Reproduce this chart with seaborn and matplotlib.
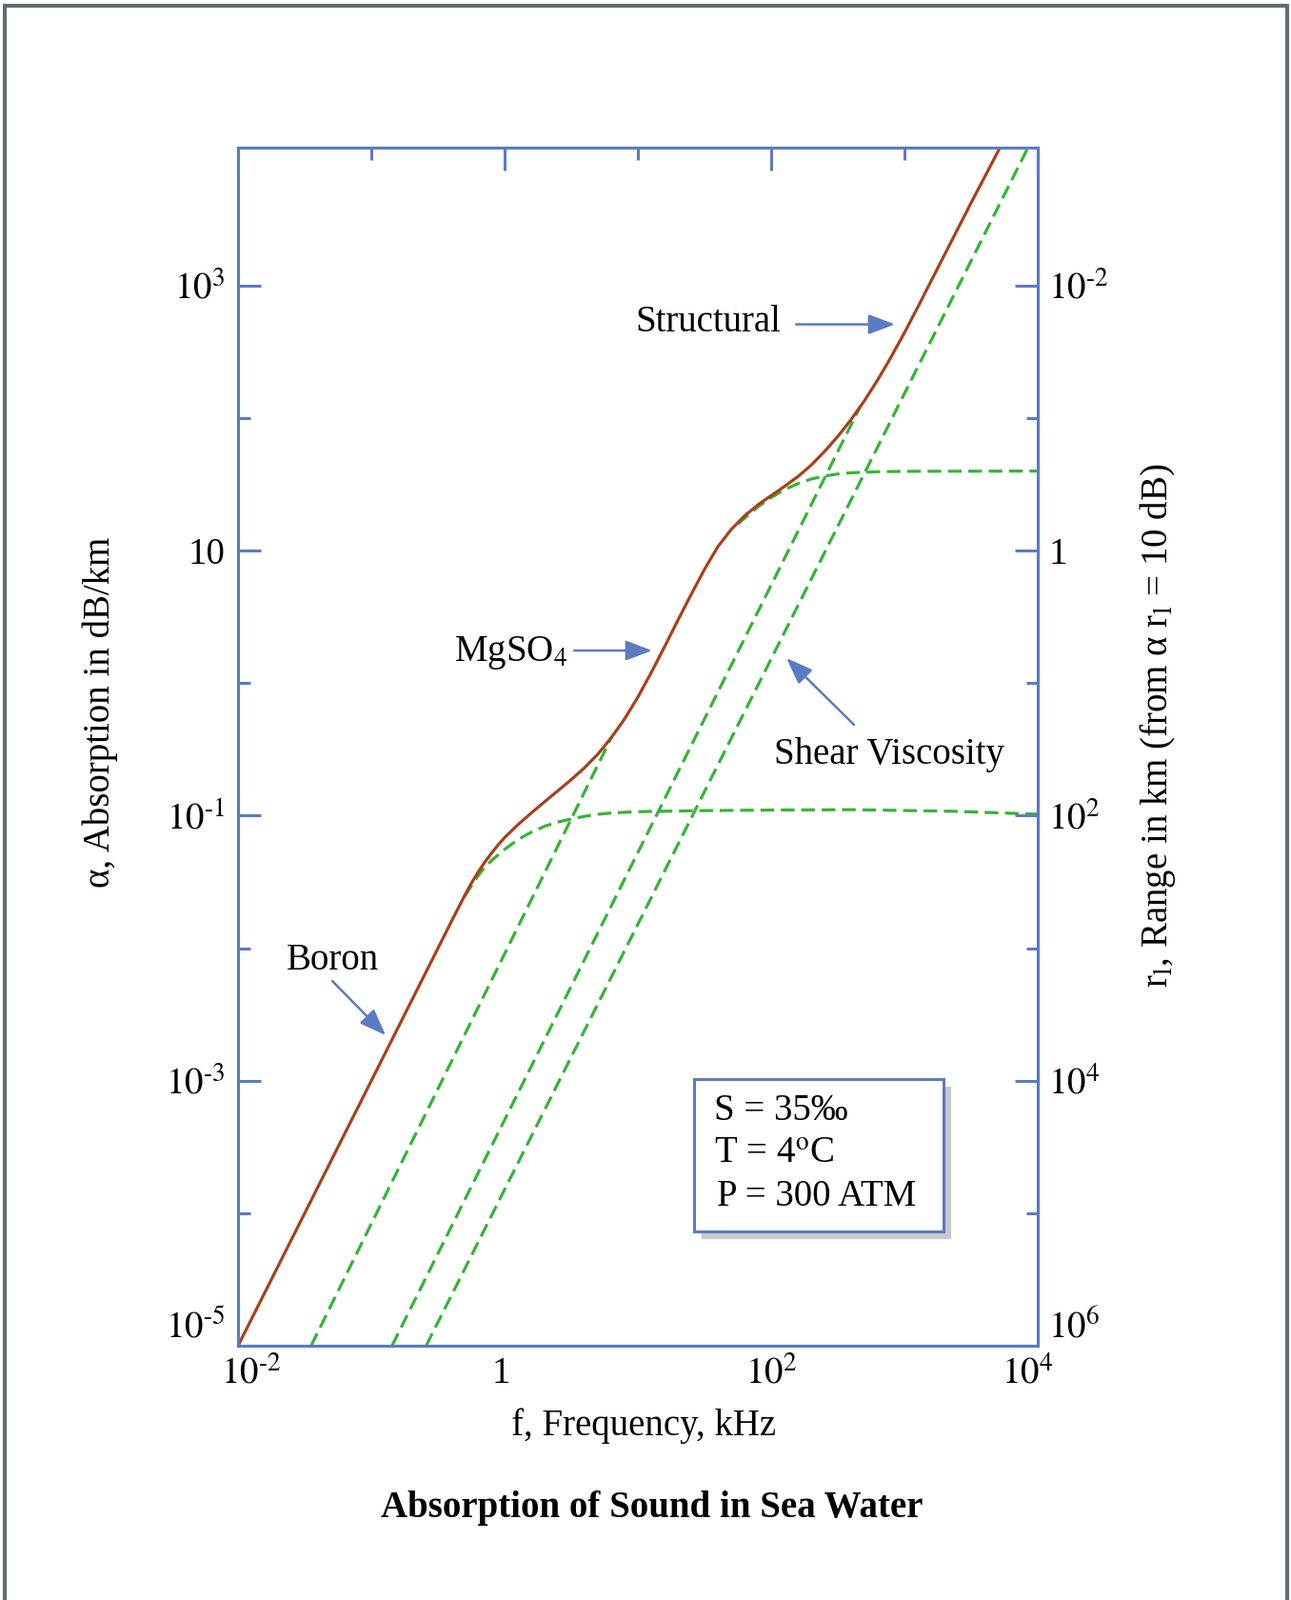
import numpy as np
import pandas as pd
import matplotlib
matplotlib.use("Agg")
import matplotlib.pyplot as plt
import seaborn as sns
from matplotlib.patches import Rectangle
from matplotlib.transforms import ScaledTranslation

# --- values: log10 of f (kHz) and log10 of alpha (dB/km) ---
total_logf = [-2.00, -0.60, -0.40, -0.30, -0.25, -0.20, -0.15, -0.10, -0.05, 0.00,
              0.10, 0.20, 0.30, 0.40, 0.50, 0.60, 0.70, 0.80, 0.90, 1.00,
              1.10, 1.20, 1.30, 1.40, 1.50, 1.60, 1.70, 1.80, 1.90, 2.00,
              2.10, 2.20, 2.30, 2.40, 2.50, 2.60, 2.70, 2.80, 2.90, 3.00,
              3.10, 3.30, 3.50, 3.716]
total_loga = [-5.000, -2.200, -1.800, -1.603, -1.510, -1.428, -1.352, -1.285, -1.222, -1.165,
              -1.068, -0.980, -0.895, -0.812, -0.728, -0.638, -0.535, -0.412, -0.270, -0.105,
              0.080, 0.275, 0.475, 0.670, 0.860, 1.030, 1.160, 1.262, 1.345, 1.415,
              1.485, 1.558, 1.645, 1.748, 1.862, 1.990, 2.132, 2.290, 2.462, 2.645,
              2.838, 3.232, 3.625, 4.040]

boron_logf = [-0.30, -0.25, -0.20, -0.166, -0.10, 0.00, 0.10, 0.20, 0.30, 0.40, 0.50, 0.60,
              0.70, 0.80, 1.00, 1.50, 2.00, 2.60, 3.36, 4.00]
boron_loga = [-1.610, -1.530, -1.455, -1.410, -1.340, -1.255, -1.180, -1.125, -1.080, -1.048,
              -1.025, -1.005, -0.990, -0.980, -0.970, -0.962, -0.958, -0.955, -0.967, -0.989]

mg_low_logf = [-1.452, 0.805]
mg_low_loga = [-5.000, -0.402]
mg_high_logf = [1.75, 1.80, 1.90, 2.00, 2.10, 2.20, 2.30, 2.40, 2.50, 2.60, 2.80, 3.00, 4.00]
mg_high_loga = [1.200, 1.245, 1.330, 1.400, 1.460, 1.505, 1.540, 1.562, 1.578, 1.587, 1.595,
                1.598, 1.600]

struct_logf = [-0.845, 2.664]
struct_loga = [-5.000, 2.080]
shear_logf = [-0.589, 3.926]
shear_loga = [-5.000, 4.040]

x_ticks = [1e-2, 1, 1e2, 1e4]
x_labels = [r"$10^{\text{-}2}$", "1", r"$10^{2}$", r"$10^{4}$"]
x_minor = [1e-1, 10, 1e3]
y_ticks = [1e-5, 1e-3, 1e-1, 10, 1e3]
y_labels = [r"$10^{\text{-}5}$", r"$10^{\text{-}3}$", r"$10^{\text{-}1}$", "10", r"$10^{3}$"]
y_minor = [1e-4, 1e-2, 1, 1e2]
r_labels = [r"$10^{6}$", r"$10^{4}$", r"$10^{2}$", "1", r"$10^{\text{-}2}$"]  # r = 10 dB / alpha

BLUE = "#5b7bc2"
BROWN = "#a8401a"
GREEN = "#34b534"
FS = 28

sns.set_theme(style="white")
plt.rcParams["font.family"] = ["Liberation Serif", "DejaVu Serif"]
plt.rcParams["mathtext.fontset"] = "stix"
plt.rcParams["text.color"] = "black"
plt.rcParams["axes.labelcolor"] = "black"

fig = plt.figure(figsize=(13.56, 16.8), dpi=100)
ax = fig.add_axes([0.1844, 0.1589, 0.6195, 0.7488])
ax.set_xscale("log")
ax.set_yscale("log")


def draw(lf, la, color, dashed, z):
    df = pd.DataFrame({"f": 10 ** np.array(lf), "a": 10 ** np.array(la)})
    ls = (0, (4.5, 2.2)) if dashed else "-"
    sns.lineplot(data=df, x="f", y="a", ax=ax, color=color, linewidth=2.3,
                 linestyle=ls, sort=False, estimator=None, zorder=z)


draw(mg_low_logf, mg_low_loga, GREEN, True, 2)
draw(mg_high_logf, mg_high_loga, GREEN, True, 2)
draw(boron_logf, boron_loga, GREEN, True, 2)
draw(struct_logf, struct_loga, GREEN, True, 2)
draw(shear_logf, shear_loga, GREEN, True, 2)
draw(total_logf, total_loga, BROWN, False, 3)

ax.set_xlim(1e-2, 1e4)
ax.set_ylim(1e-5, 10 ** 4.04)

ax.set_xticks(x_ticks, labels=x_labels)
ax.set_xticks(x_minor, minor=True)
ax.set_yticks(y_ticks, labels=y_labels)
ax.set_yticks(y_minor, minor=True)
ax.xaxis.set_minor_formatter(matplotlib.ticker.NullFormatter())
ax.yaxis.set_minor_formatter(matplotlib.ticker.NullFormatter())
ax.tick_params(which="both", direction="in", color=BLUE, width=2.2, top=True,
               right=False, labelsize=FS, labelcolor="black")
ax.tick_params(which="major", length=17)
ax.tick_params(which="minor", length=9)
ax.tick_params(axis="y", pad=10)
ax.tick_params(axis="x", pad=8)

ax2 = ax.twinx()
ax2.set_yscale("log")
ax2.set_ylim(ax.get_ylim())
ax2.set_yticks(y_ticks, labels=r_labels)
ax2.set_yticks(y_minor, minor=True)
ax2.yaxis.set_minor_formatter(matplotlib.ticker.NullFormatter())
ax2.tick_params(which="both", direction="in", color=BLUE, width=2.2,
                labelsize=FS, labelcolor="black", pad=8)
ax2.tick_params(which="major", length=17)
ax2.tick_params(which="minor", length=9)

for a in (ax, ax2):
    for s in a.spines.values():
        s.set_color(BLUE)
        s.set_linewidth(2.2)
    a.grid(False)

# nudge edge tick labels like the original
ax.get_yticklabels()[0].set_va("bottom")
ax2.get_yticklabels()[0].set_va("bottom")
xl = ax.get_xticklabels()
xl[0].set_transform(xl[0].get_transform() + ScaledTranslation(0.14, 0, fig.dpi_scale_trans))
xl[1].set_transform(xl[1].get_transform() + ScaledTranslation(-0.04, 0, fig.dpi_scale_trans))
xl[-1].set_transform(xl[-1].get_transform() + ScaledTranslation(-0.11, 0, fig.dpi_scale_trans))

ax.set_xlabel("f, Frequency, kHz", fontsize=FS)
ax.xaxis.set_label_coords(0.507, -0.067)
ax.xaxis.label.set_va("center")
ax.set_ylabel("\u03b1, Absorption in dB/km", fontsize=FS)
ax.yaxis.set_label_coords(-0.1726, 0.5286)
ax.yaxis.label.set_va("center")
ax2.set_ylabel("r$_{\\rm l}$, Range in km (from \u03b1 r$_{\\rm l}$ = 10 dB)", fontsize=FS, rotation=90)
ax2.yaxis.set_label_coords(1.15, 0.5175)
ax2.yaxis.label.set_va("center")


def px(X, Y):
    # figure pixel position -> axes fraction
    return ((X - 250) / 840, (1413 - Y) / 1258)


arrow = dict(arrowstyle="-|>,head_length=0.85,head_width=0.32", color=BLUE, lw=1.8,
             shrinkA=0, shrinkB=0, mutation_scale=20)
for tail, tip in [((836, 340.5), (940, 340.5)), ((603, 683), (685, 683)),
                  ((897, 761), (826, 691)), ((349, 1030), (405, 1087))]:
    ax.annotate("", xy=px(*tip), xytext=px(*tail), xycoords="axes fraction",
                textcoords="axes fraction", arrowprops=arrow, zorder=5)

ax.text(*px(744, 338), "Structural", transform=ax.transAxes, fontsize=FS, ha="center", va="center")
ax.text(*px(596, 694), r"MgSO$_4$", transform=ax.transAxes, fontsize=FS, ha="right", va="baseline")
ax.text(*px(934, 792), "Shear Viscosity", transform=ax.transAxes, fontsize=FS, ha="center", va="center")
ax.text(*px(349, 1008), "Boron", transform=ax.transAxes, fontsize=FS, ha="center", va="center")

# condition box with drop shadow
x0, y1 = px(729, 1133)
x1, y0 = px(991, 1293)
ax.add_patch(Rectangle((x0 + 0.0095, y0 - 0.0064), x1 - x0, y1 - y0, transform=ax.transAxes,
                       facecolor="#c9c9c9", edgecolor="none", zorder=6))
ax.add_patch(Rectangle((x0, y0), x1 - x0, y1 - y0, transform=ax.transAxes,
                       facecolor="white", edgecolor=BLUE, lw=2.2, zorder=7))
ax.text(*px(750, 1166), "S = 35\u2030", transform=ax.transAxes, fontsize=FS, va="center", zorder=8)
ax.text(*px(750, 1211), r"T = 4$^{\rm o}$C", transform=ax.transAxes, fontsize=FS, va="center", zorder=8)
ax.text(*px(753, 1256), "P = 300 ATM", transform=ax.transAxes, fontsize=FS, va="center", zorder=8)

fig.text(685 / 1356, 1 - 1583 / 1680, "Absorption of Sound in Sea Water", fontsize=FS,
         fontweight="bold", ha="center", va="center")

# outer frame of the page
fig.patches.append(Rectangle((4.7 / 1356, -0.01), (1352 - 4.7) / 1356, 1.01 - 6 / 1680,
                             transform=fig.transFigure, facecolor="none",
                             edgecolor="#5f6b75", lw=2.9))

fig.savefig("out.png", dpi=100)
